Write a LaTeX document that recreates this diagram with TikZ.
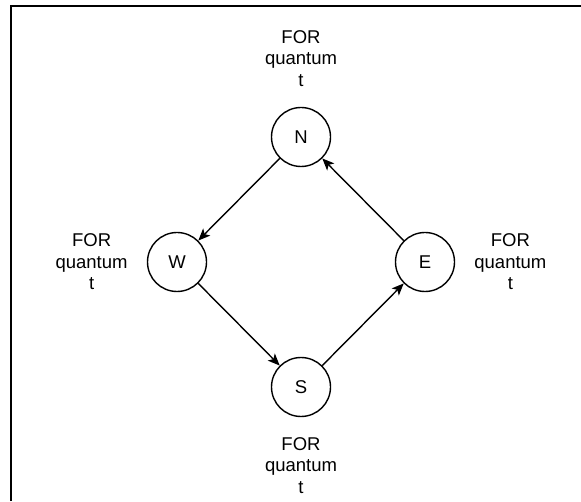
\documentclass[tikz,border=0pt]{standalone}
\usepackage{fontspec}
\setmainfont{Liberation Sans}
\usetikzlibrary{positioning, arrows.meta}

\begin{document}
\begin{tikzpicture}[x=1pt, y=1pt, node distance=125pt and 124pt,
		font=\fontsize{18.5}{21.5}\selectfont,
		proc/.style={circle, draw, line width=1.4pt, minimum size=59pt, inner sep=0pt, on grid},
		quant/.style={align=center, inner sep=0pt},
		arw/.style={-{Stealth[length=12pt, width=10pt, inset=3pt]}, line width=1.4pt}]
		\useasboundingbox (0,0) rectangle (581,501);
		\draw[line width=2.3pt] (11,0) -- (11,495) -- (581,495);
		\node[proc] (N) at (301,364) {N};
			\node[proc, below left  =of N] (W) {W};
			\node[proc, below right =of N] (E) {E};
			\node[proc, below right =of W] (S) {S};
		\node[quant, above =20pt of N] (qN) {FOR\\quantum\\t};
		\node[quant, left  =19pt of W] (qW) {FOR\\quantum\\t};
		\node[quant, right =19pt of E] (qE) {FOR\\quantum\\t};
		\node[quant, below =20pt of S] (qS) {FOR\\quantum\\t};
		\foreach \from/\to in {N/W,W/S,S/E,E/N}
			\draw[arw] (\from) -- (\to);
	\end{tikzpicture}
\end{document}
